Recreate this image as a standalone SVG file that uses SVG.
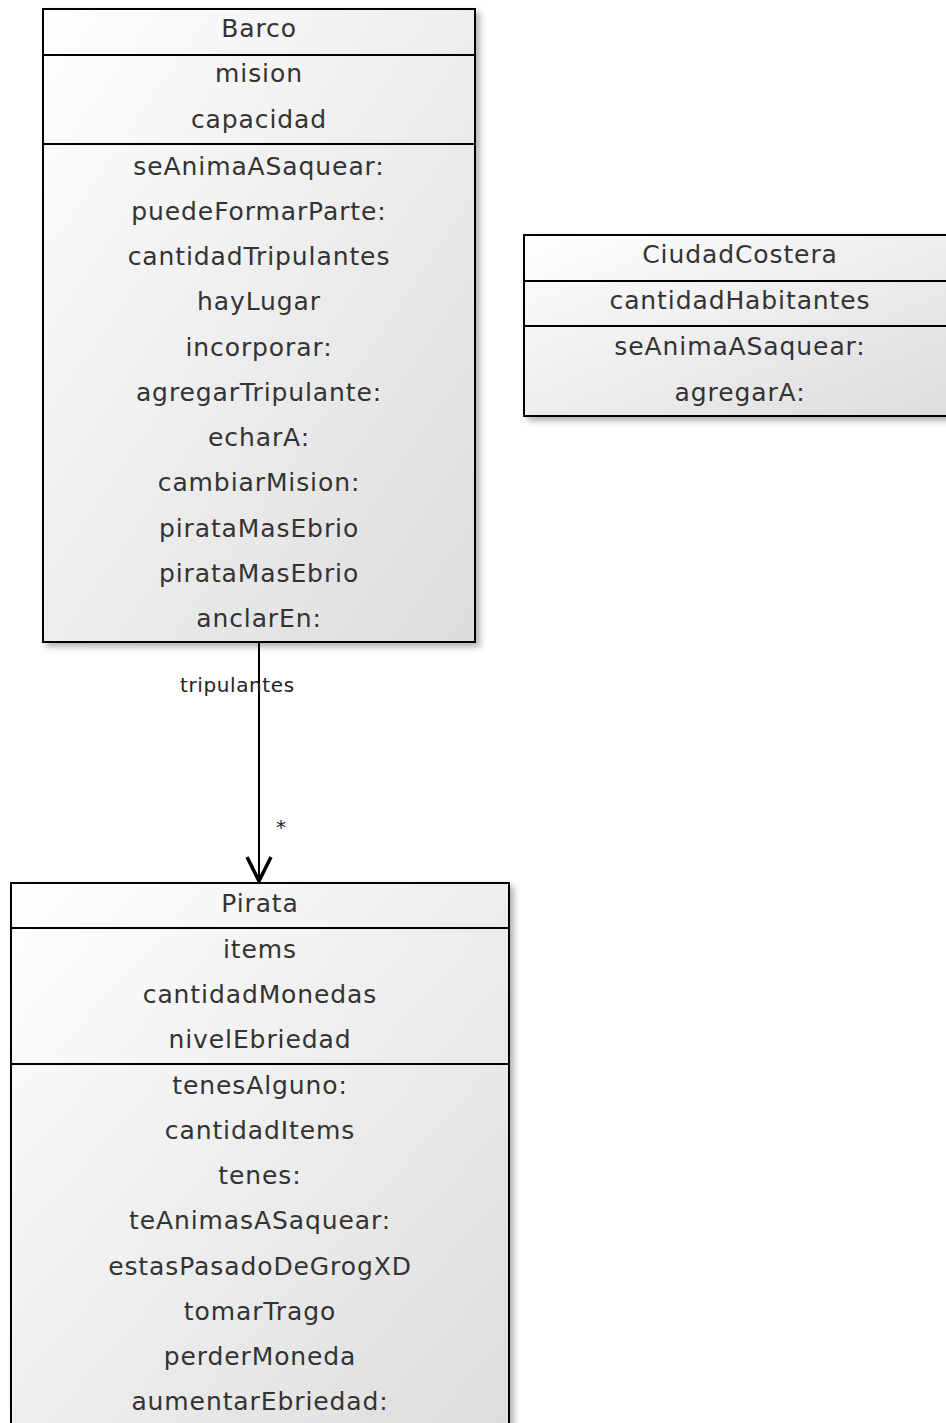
<svg xmlns="http://www.w3.org/2000/svg" width="946" height="1423" viewBox="0 0 946 1423">
<style>
.box{fill:url(#g);stroke:#000;stroke-width:2;filter:url(#sh)}
.sep{stroke:#000;stroke-width:2}
.t{font-family:"DejaVu Sans",Verdana,sans-serif;font-size:25px;letter-spacing:0.9px;fill:#333;text-anchor:middle}
.lbl{font-family:"DejaVu Sans",Verdana,sans-serif;font-size:20px;letter-spacing:0.6px;fill:#222}
.edge{stroke:#000;stroke-width:2;fill:none}
</style>
<defs>
<linearGradient id="g" x1="0" y1="0" x2="1" y2="1">
<stop offset="0" stop-color="#ffffff"/>
<stop offset="1" stop-color="#dcdcdc"/>
</linearGradient>
<filter id="sh" x="-10%" y="-10%" width="130%" height="130%">
<feDropShadow dx="4" dy="4" stdDeviation="3" flood-color="#000" flood-opacity="0.3"/>
</filter>
</defs>
<rect width="946" height="1423" fill="#fff"/>

<g id="connectors">
<line class="edge" x1="259" y1="642" x2="259" y2="878"/>
<path d="M247,857 L259,881 L271,857" fill="none" stroke="#000" stroke-width="3.5" stroke-linejoin="miter"/>
<text class="lbl" x="180" y="692">tripulantes</text>
<text class="lbl" x="276" y="834">*</text>
</g>

<g id="Barco">
<rect class="box" x="43" y="9" width="432" height="633"/>
<line class="sep" x1="43" y1="55" x2="475" y2="55"/>
<line class="sep" x1="43" y1="144" x2="475" y2="144"/>
<text class="t" x="259" y="37">Barco</text>
<text class="t" x="259" y="82">mision</text>
<text class="t" x="259" y="128">capacidad</text>
<text class="t" x="259" y="175">seAnimaASaquear:</text>
<text class="t" x="259" y="220">puedeFormarParte:</text>
<text class="t" x="259" y="265">cantidadTripulantes</text>
<text class="t" x="259" y="310">hayLugar</text>
<text class="t" x="259" y="356">incorporar:</text>
<text class="t" x="259" y="401">agregarTripulante:</text>
<text class="t" x="259" y="446">echarA:</text>
<text class="t" x="259" y="491">cambiarMision:</text>
<text class="t" x="259" y="537">pirataMasEbrio</text>
<text class="t" x="259" y="582">pirataMasEbrio</text>
<text class="t" x="259" y="627">anclarEn:</text>
</g>

<g id="CiudadCostera">
<rect class="box" x="524" y="235" width="432" height="181"/>
<line class="sep" x1="524" y1="281" x2="956" y2="281"/>
<line class="sep" x1="524" y1="326" x2="956" y2="326"/>
<text class="t" x="740" y="263">CiudadCostera</text>
<text class="t" x="740" y="309">cantidadHabitantes</text>
<text class="t" x="740" y="355">seAnimaASaquear:</text>
<text class="t" x="740" y="401">agregarA:</text>
</g>

<g id="Pirata">
<rect class="box" x="11" y="883" width="498" height="560"/>
<line class="sep" x1="11" y1="928" x2="509" y2="928"/>
<line class="sep" x1="11" y1="1064" x2="509" y2="1064"/>
<text class="t" x="260" y="912">Pirata</text>
<text class="t" x="260" y="958">items</text>
<text class="t" x="260" y="1003">cantidadMonedas</text>
<text class="t" x="260" y="1048">nivelEbriedad</text>
<text class="t" x="260" y="1094">tenesAlguno:</text>
<text class="t" x="260" y="1139">cantidadItems</text>
<text class="t" x="260" y="1184">tenes:</text>
<text class="t" x="260" y="1229">teAnimasASaquear:</text>
<text class="t" x="260" y="1275">estasPasadoDeGrogXD</text>
<text class="t" x="260" y="1320">tomarTrago</text>
<text class="t" x="260" y="1365">perderMoneda</text>
<text class="t" x="260" y="1410">aumentarEbriedad:</text>
</g>
</svg>
